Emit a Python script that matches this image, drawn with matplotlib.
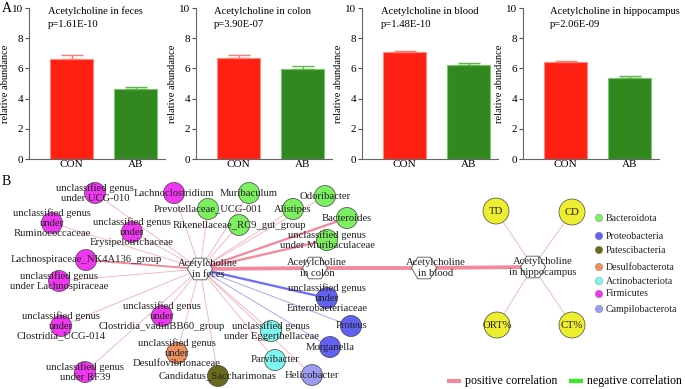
import numpy as np
import matplotlib
matplotlib.use('Agg')
import matplotlib.pyplot as plt
from matplotlib.patches import Circle, RegularPolygon

plt.rcParams['font.family'] = ['Liberation Serif', 'DejaVu Serif']

# ---- panel A data ----
tissues = ['feces', 'colon', 'blood', 'hippocampus']
p_values = ['1.61E-10', '3.90E-07', '1.48E-10', '2.06E-09']
groups = ['CON', 'AB']
con_mean = [6.6, 6.69, 7.07, 6.4]
con_err = [0.32, 0.18, 0.1, 0.12]
ab_mean = [4.64, 5.98, 6.25, 5.34]
ab_err = [0.15, 0.15, 0.14, 0.18]

# ---- panel B data ----
taxon_labels = [
    'unclassified genus\nunder UCG-010',
    'unclassified genus\nunder\nRuminococcaceae',
    'Lachnoclostridium',
    'unclassified genus\nunder\nErysipelotrichaceae',
    'Lachnospiraceae_NK4A136_group',
    'unclassified genus\nunder Lachnospiraceae',
    'unclassified genus\nunder\nClostridia_vadinBB60_group',
    'unclassified genus\nunder\nClostridia_UCG-014',
    'unclassified genus\nunder\nDesulfovibrionaceae',
    'unclassified genus\nunder RF39',
    'Candidatus_Saccharimonas',
    'Muribaculum',
    'Prevotellaceae_UCG-001',
    'Rikenellaceae_RC9_gut_group',
    'Alistipes',
    'Odoribacter',
    'Bacteroides',
    'unclassified genus\nunder Muribaculaceae',
    'unclassified genus\nunder\nEnterobacteriaceae',
    'Proteus',
    'Morganella',
    'unclassified genus\nunder Eggerthellaceae',
    'Parvibacter',
    'Helicobacter',
]
taxon_phylum = ['Firmicutes'] * 8 + ['Desulfobacterota', 'Firmicutes', 'Patescibacteria'] + \
    ['Bacteroidota'] * 7 + ['Proteobacteria'] * 3 + ['Actinobacteriota'] * 2 + ['Campilobacterota']
# correlation with acetylcholine in feces: sign and strength
taxon_sign = [1] * 18 + [-1] * 3 + [1] * 3
taxon_strength = [1, 1, 1, 1, 2.5, 1, 1, 1, 1, 1, 1, 1, 1, 1, 1, 1, 3, 3, 3, 1, 1, 1, 1, 1]
layout_x = [95, 52, 174, 132, 86, 59, 162, 61, 177, 85, 218,
            249, 208, 239, 293, 325, 347, 327, 327, 351, 330, 271, 275, 312]
layout_y = [193, 223, 193, 232, 260, 281, 316, 326, 353, 372, 376,
            193, 209, 225, 209, 196, 218, 240, 298, 326, 347, 331, 360, 375]

hub_labels = ['Acetylcholine\nin feces', 'Acetylcholine\nin colon',
              'Acetylcholine\nin blood', 'Acetylcholine\nin hippocampus']
hub_x = [200, 315, 424, 533]
hub_y = [269, 268, 268, 267]
hub_label_dx = [8, 2, 12, 10]
hub_strength = [5, 5, 5]

outcome_labels = ['TD', 'CD', 'ORT%', 'CT%']
outcome_x = [496, 572, 497, 572]
outcome_y = [211, 212, 325, 325]

phyla = ['Bacteroidota', 'Proteobacteria', 'Patescibacteria', 'Desulfobacterota',
         'Actinobacteriota', 'Firmicutes', 'Campilobacterota']
phylum_colors = ['#7cf060', '#6262f2', '#6a6a1c', '#ee905e', '#80f6f2', '#f036f0', '#9c9cf2']
pos_color = '#f28a9c'
neg_color = '#6e6ef6'
neg_legend_color = '#33ee22'

W, H = 685, 389
fig = plt.figure(figsize=(W / 100, H / 100), dpi=100)

# ---- panel A ----
ax_left = [29, 196, 362, 523]
title_dx = [0.14, 0.13, 0.14, 0.2]
for i in range(4):
    ax = fig.add_axes([ax_left[i] / W, (H - 159) / H, 136 / W, 151 / H])
    ax.bar([0], [con_mean[i]], width=0.67, color='#ff2014', edgecolor='#ff8a80', lw=0.8)
    ax.bar([1], [ab_mean[i]], width=0.67, color='#30881e', edgecolor='#7cc870', lw=0.8)
    ax.errorbar([0], [con_mean[i]], yerr=[[0], [con_err[i]]], fmt='none',
                ecolor='#ff7a70', elinewidth=1, capsize=8, capthick=1)
    ax.errorbar([1], [ab_mean[i]], yerr=[[0], [ab_err[i]]], fmt='none',
                ecolor='#5cb848', elinewidth=1, capsize=8, capthick=1)
    ax.set_xlim(-0.664, 1.46)
    ax.set_ylim(0, 10)
    ax.set_yticks([0, 2, 4, 6, 8, 10])
    ax.set_xticks([0, 1])
    ax.set_xticklabels(groups)
    ax.tick_params(axis='x', length=0, labelsize=8, pad=1)
    ax.tick_params(axis='y', length=3, labelsize=8, pad=1, color='#555555')
    for s in ['top', 'right']:
        ax.spines[s].set_visible(False)
    for s in ['left', 'bottom']:
        ax.spines[s].set_color('#666666')
    ax.set_ylabel('relative abundance', fontsize=7.5, labelpad=2)
    ax.text(title_dx[i], 0.98, 'Acetylcholine in ' + tissues[i], transform=ax.transAxes,
            fontsize=7.7, va='center', ha='left')
    ax.text(title_dx[i], 0.894, 'p=' + p_values[i], transform=ax.transAxes,
            fontsize=7.7, va='center', ha='left')

fig.text(2 / W, 1 - 9 / H, 'A', fontsize=10, va='center', ha='left')
fig.text(2 / W, 1 - 182 / H, 'B', fontsize=10, va='center', ha='left')

# ---- panel B ----
net = fig.add_axes([0, 0, 1, 1])
net.set_xlim(0, W)
net.set_ylim(H, 0)
net.axis('off')

def lw(strength):
    return 0.55 * strength

# edges
for i in range(len(taxon_labels)):
    c = pos_color if taxon_sign[i] > 0 else neg_color
    a = 0.75 if taxon_strength[i] < 2 else 1.0
    net.plot([hub_x[0], layout_x[i]], [hub_y[0], layout_y[i]], color=c, alpha=a,
             lw=lw(taxon_strength[i]), zorder=1, solid_capstyle='butt')
for i in range(3):
    net.plot([hub_x[i], hub_x[i + 1]], [hub_y[i], hub_y[i + 1]], color=pos_color,
             lw=lw(hub_strength[i]), zorder=1, solid_capstyle='butt')
for i in range(4):
    net.plot([hub_x[3], outcome_x[i]], [hub_y[3], outcome_y[i]], color=pos_color,
             lw=0.55, alpha=0.75, zorder=1)

# nodes
for i in range(len(taxon_labels)):
    col = phylum_colors[phyla.index(taxon_phylum[i])]
    net.add_patch(Circle((layout_x[i], layout_y[i]), 10.5, facecolor=col,
                         edgecolor='#444444', lw=0.5, zorder=2))
    net.text(layout_x[i], layout_y[i], taxon_labels[i], fontsize=7.7, ha='center',
             va='center', linespacing=1.12, color='#222222', zorder=4)
for i in range(4):
    net.add_patch(Circle((outcome_x[i], outcome_y[i]), 13, facecolor='#eeee30',
                         edgecolor='#444444', lw=0.5, zorder=2))
    net.text(outcome_x[i], outcome_y[i], outcome_labels[i], fontsize=7.7, ha='center',
             va='center', color='#222222', zorder=4)
for i in range(4):
    net.add_patch(RegularPolygon((hub_x[i], hub_y[i]), 6, radius=12.5,
                                 orientation=np.pi / 6, facecolor='white',
                                 edgecolor='#555555', lw=0.6, zorder=3))
    net.text(hub_x[i] + hub_label_dx[i], hub_y[i], hub_labels[i], fontsize=7.7,
             ha='center', va='center', linespacing=1.15, color='#222222', zorder=4)

# phylum legend
leg_y = [218, 236, 250, 267, 281, 294, 309]
net.scatter([599] * len(phyla), leg_y, s=30, c=phylum_colors, edgecolors='#888888',
            linewidths=0.3, zorder=2)
for k in range(len(phyla)):
    net.text(606, leg_y[k], phyla[k], fontsize=7.2, ha='left', va='center', color='#222222')

# correlation legend
net.plot([447, 461], [381, 381], color=pos_color, lw=3, solid_capstyle='butt')
net.text(465, 381, 'positive correlation', fontsize=8.6, ha='left', va='center')
net.plot([569, 583], [381, 381], color=neg_legend_color, lw=3, solid_capstyle='butt')
net.text(587, 381, 'negative correlation', fontsize=8.6, ha='left', va='center')

fig.savefig('out.png', dpi=100)
